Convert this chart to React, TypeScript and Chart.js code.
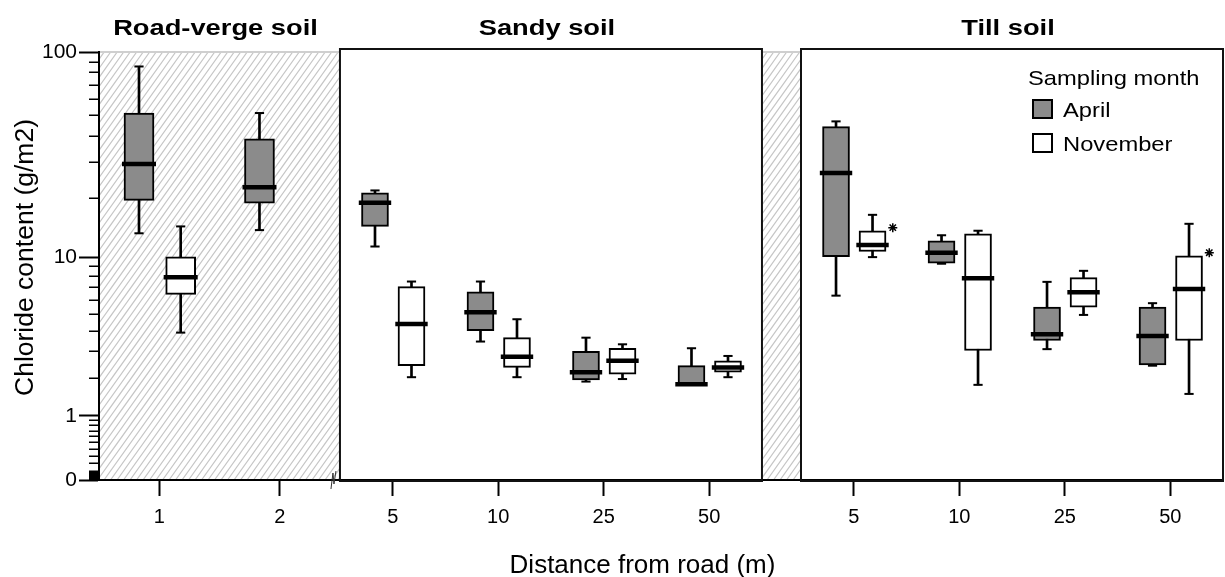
import React, { useEffect, useRef } from 'react';
import { Chart, registerables } from 'chart.js';

Chart.register(...registerables);

// ---------------- DATA ----------------
const panelTitles = ['Road-verge soil', 'Sandy soil', 'Till soil'];
const roadDistances = ['1', '2'];
const sandyDistances = ['5', '10', '25', '50'];
const tillDistances = ['5', '10', '25', '50'];

// category order: road 1, road 2, sandy 5, 10, 25, 50, till 5, 10, 25, 50
const aprilMin = [13.3, 13.8, 11.4, 3.45, 1.89, 1.79, 6.3, 9.3, 3.1, 2.43];
const aprilQ1 = [19.4, 18.8, 14.4, 4.0, 1.94, 1.79, 10.1, 9.35, 3.5, 2.46];
const aprilMedian = [29.2, 22.5, 18.9, 5.1, 2.2, 1.81, 26.4, 10.6, 3.82, 3.73];
const aprilQ3 = [51.3, 38.6, 21.1, 6.6, 3.0, 2.43, 44.2, 12.2, 5.45, 5.45];
const aprilMax = [85.4, 51.3, 21.7, 7.5, 3.64, 3.14, 46.8, 13.0, 7.47, 5.73];

const novMin = [3.9, null, 2.03, 2.03, 1.97, 2.03, 10.06, 1.79, 4.93, 1.53];
const novQ1 = [6.4, null, 2.43, 2.37, 2.13, 2.2, 10.75, 3.04, 5.45, 3.5];
const novMedian = [7.9, null, 4.37, 2.78, 2.62, 2.36, 11.6, 7.81, 6.58, 6.85];
const novQ3 = [10.1, null, 7.05, 3.64, 3.14, 2.61, 13.7, 13.2, 7.87, 10.21];
const novMax = [14.4, null, 7.5, 4.66, 3.32, 2.81, 16.45, 13.7, 8.54, 14.84];
const novStars = [null, null, null, null, null, null, 14.2, null, null, 10.6];

const seriesLabels = ['April', 'November'];
const legendTitle = 'Sampling month';
const xAxisTitle = 'Distance from road (m)';
const yAxisTitle = 'Chloride content (g/m2)';

const yTickValues = [0, 1, 10, 100];
const yTickLabels = ['0', '1', '10', '100'];
const yMinorTicks = [
  0.01, 0.02, 0.03, 0.04, 0.05, 0.06, 0.07, 0.08, 0.09,
  0.1, 0.2, 0.3, 0.4, 0.5, 0.6, 0.7, 0.8, 0.9,
  2, 3, 4, 5, 6, 7, 8, 9,
  20, 30, 40, 50, 60, 70, 80, 90,
];

// ---------------- LAYOUT / STYLE ----------------
const FONT = "'Liberation Sans', Arial, Helvetica, sans-serif";
const PANEL_UNITS = [2.284, 4, 4]; // panel widths in category units
const PANEL_GAP_BEFORE = [0, 0, 0.37];
const APRIL_OFFSET = -0.168;
const NOV_OFFSET = 0.178;
const STAR_OFFSET = 0.37;
const APRIL_FILL = '#8b8b8b';
const NOV_FILL = '#ffffff';

const tf = (v: number) => Math.log10(v + 1);

const panelDistances = [roadDistances, sandyDistances, tillDistances];
const panelStarts: number[] = [];
{
  let s = 0;
  PANEL_UNITS.forEach((w, i) => {
    s += PANEL_GAP_BEFORE[i];
    panelStarts.push(s);
    s += w;
  });
}
const X_MAX = panelStarts[2] + PANEL_UNITS[2];

type Cat = { panel: number; label: string; center: number; slot: number };
const categories: Cat[] = [];
panelDistances.forEach((d, p) => {
  const slot = PANEL_UNITS[p] / d.length;
  d.forEach((label, i) => {
    categories.push({ panel: p, label, center: panelStarts[p] + (i + 0.5) * slot, slot });
  });
});

function buildSeries(
  mins: (number | null)[], q1: (number | null)[], med: (number | null)[],
  q3: (number | null)[], maxs: (number | null)[], offset: number,
) {
  const whisk: any[] = [], boxRoad: any[] = [], boxOther: any[] = [], caps: any[] = [], meds: any[] = [];
  categories.forEach((c, i) => {
    if (med[i] == null) return;
    const x = c.center + offset * c.slot;
    whisk.push({ x, y: [tf(mins[i] as number), tf(maxs[i] as number)] });
    const box = { x, y: [tf(q1[i] as number), tf(q3[i] as number)] };
    (c.panel === 0 ? boxRoad : boxOther).push(box);
    caps.push({ x, y: tf(mins[i] as number) });
    caps.push({ x, y: tf(maxs[i] as number) });
    meds.push({ x, y: tf(med[i] as number), road: c.panel === 0 });
  });
  return { whisk, boxRoad, boxOther, caps, meds };
}

const april = buildSeries(aprilMin, aprilQ1, aprilMedian, aprilQ3, aprilMax, APRIL_OFFSET);
const nov = buildSeries(novMin, novQ1, novMedian, novQ3, novMax, NOV_OFFSET);
const starPoints = categories
  .map((c, i) => (novStars[i] == null ? null : { x: c.center + STAR_OFFSET * c.slot, y: tf(novStars[i] as number) }))
  .filter(Boolean);

function hatch(ctx: CanvasRenderingContext2D, x0: number, y0: number, x1: number, y1: number) {
  ctx.save();
  ctx.beginPath();
  ctx.rect(x0, y0, x1 - x0, y1 - y0);
  ctx.clip();
  ctx.strokeStyle = '#c6c6c6';
  ctx.lineWidth = 1.2;
  const slope = 1.4;
  const sp = 6.5;
  const h = y1 - y0;
  const dx = h / slope;
  ctx.beginPath();
  const startS = Math.floor((x0 - dx) / sp) * sp;
  for (let s = startS; s < x1 + sp; s += sp) {
    ctx.moveTo(s, y1);
    ctx.lineTo(s + dx, y0);
  }
  ctx.stroke();
  ctx.restore();
  ctx.save();
  ctx.strokeStyle = '#cfcfcf';
  ctx.lineWidth = 2;
  ctx.beginPath();
  ctx.moveTo(x0, y0);
  ctx.lineTo(x1, y0);
  ctx.stroke();
  ctx.restore();
}

function stretchedText(ctx: CanvasRenderingContext2D, text: string, cx: number, y: number, font: string, sx: number, align: CanvasTextAlign) {
  ctx.save();
  ctx.font = font;
  ctx.fillStyle = '#000';
  ctx.textAlign = align;
  ctx.textBaseline = 'alphabetic';
  ctx.translate(cx, y);
  ctx.scale(sx, 1);
  ctx.fillText(text, 0, 0);
  ctx.restore();
}

const decorPlugin = {
  id: 'decor',
  beforeDraw(chart: any) {
    const { ctx, chartArea: a, scales } = chart;
    const x = scales.x;
    hatch(ctx, a.left + 1, a.top, x.getPixelForValue(panelStarts[1]), a.bottom);
    hatch(ctx, x.getPixelForValue(panelStarts[1] + PANEL_UNITS[1]), a.top, x.getPixelForValue(panelStarts[2]), a.bottom);
  },
  afterDraw(chart: any) {
    const { ctx, chartArea: a, scales } = chart;
    const x = scales.x;
    const y = scales.y;
    // framed panels
    ctx.save();
    ctx.strokeStyle = '#111';
    ctx.lineWidth = 2;
    [1, 2].forEach((p) => {
      const l = x.getPixelForValue(panelStarts[p]);
      const r = Math.min(x.getPixelForValue(panelStarts[p] + PANEL_UNITS[p]), chart.width - 1.5);
      ctx.strokeRect(l, a.top - 3, r - l, a.bottom - a.top + 4);
    });
    ctx.restore();
    // minor y ticks
    ctx.save();
    ctx.strokeStyle = '#000';
    ctx.lineWidth = 1.5;
    ctx.beginPath();
    yMinorTicks.forEach((v) => {
      const py = Math.round(y.getPixelForValue(tf(v))) + 0.25;
      ctx.moveTo(a.left - 10, py);
      ctx.lineTo(a.left, py);
    });
    ctx.stroke();
    ctx.restore();
    // axis break symbol
    const bx = x.getPixelForValue(panelStarts[1]) - 7;
    const by = a.bottom;
    ctx.save();
    ctx.strokeStyle = '#333';
    ctx.lineWidth = 1;
    ctx.beginPath();
    ctx.moveTo(bx - 2, by + 9);
    ctx.lineTo(bx, by - 7);
    ctx.lineTo(bx + 1, by + 4);
    ctx.lineTo(bx + 3, by - 9);
    ctx.stroke();
    ctx.restore();
    // panel titles
    panelTitles.forEach((t, p) => {
      const l = x.getPixelForValue(panelStarts[p]);
      const r = x.getPixelForValue(panelStarts[p] + PANEL_UNITS[p]);
      stretchedText(ctx, t, (l + r) / 2 - 4, 34.5, `bold 22px ${FONT}`, 1.24, 'center');
    });
    // axis titles
    stretchedText(ctx, xAxisTitle, 642.5, 573, `26px ${FONT}`, 1.0, 'center');
    ctx.save();
    ctx.font = `26.5px ${FONT}`;
    ctx.fillStyle = '#000';
    ctx.textAlign = 'center';
    ctx.textBaseline = 'alphabetic';
    ctx.translate(33, 257.5);
    ctx.rotate(-Math.PI / 2);
    ctx.fillText(yAxisTitle, 0, 0);
    ctx.restore();
    // legend
    const lx = a.right - 195;
    const ly = a.top;
    stretchedText(ctx, legendTitle, lx, ly + 33, `21px ${FONT}`, 1.13, 'left');
    const fills = [APRIL_FILL, NOV_FILL];
    seriesLabels.forEach((lab, i) => {
      const sy = ly + 48 + i * 34;
      ctx.save();
      ctx.fillStyle = fills[i];
      ctx.strokeStyle = '#000';
      ctx.lineWidth = 2;
      ctx.fillRect(lx + 5, sy, 19, 18);
      ctx.strokeRect(lx + 5, sy, 19, 18);
      ctx.restore();
      stretchedText(ctx, lab, lx + 35, sy + 17, `21px ${FONT}`, 1.13, 'left');
    });
  },
};

export default function App() {
  const ref = useRef<HTMLCanvasElement | null>(null);
  useEffect(() => {
    document.body.style.margin = '0';
    const canvas = ref.current;
    if (!canvas) return;
    const whiskerDs = (data: any[]) => ({
      type: 'bar', data, backgroundColor: '#000', borderWidth: 0, barThickness: 2, grouped: false, order: 4,
    });
    const boxDs = (label: string, data: any[], fill: string, thick: number) => ({
      type: 'bar', label, data, backgroundColor: fill, borderColor: '#000', borderWidth: 2,
      borderSkipped: false, barThickness: thick, grouped: false, order: 3,
    });
    const capDs = (data: any[]) => ({
      type: 'scatter', data, pointStyle: 'line', pointRadius: 4.6, borderColor: '#000', pointBorderWidth: 2,
      backgroundColor: '#000', order: 2,
    });
    const medDs = (data: any[]) => ({
      type: 'scatter', data, pointStyle: 'line',
      pointRadius: (c: any) => (c.raw && c.raw.road ? 17 : 16.2),
      borderColor: '#000', pointBorderWidth: 4.5, backgroundColor: '#000', order: 1,
    });
    const chart = new Chart(canvas, {
      type: 'bar',
      data: {
        datasets: [
          whiskerDs(april.whisk),
          whiskerDs(nov.whisk),
          boxDs(seriesLabels[0], april.boxRoad, APRIL_FILL, 30),
          boxDs(seriesLabels[0], april.boxOther, APRIL_FILL, 27),
          boxDs(seriesLabels[1], nov.boxRoad, NOV_FILL, 30),
          boxDs(seriesLabels[1], nov.boxOther, NOV_FILL, 27),
          capDs(april.caps),
          capDs(nov.caps),
          medDs(april.meds),
          medDs(nov.meds),
          {
            type: 'scatter', data: starPoints, pointStyle: 'star', pointRadius: 4.5, borderColor: '#000',
            pointBorderWidth: 1.5, order: 0,
          },
        ] as any,
      },
      options: {
        animation: false,
        responsive: false,
        devicePixelRatio: 1,
        events: [],
        layout: { autoPadding: false, padding: { top: 52, right: 2, left: 0, bottom: 0 } },
        plugins: { legend: { display: false }, tooltip: { enabled: false }, title: { display: false } },
        scales: {
          x: {
            type: 'linear',
            min: 0,
            max: X_MAX,
            offset: false,
            afterFit: (s: any) => { s.height = 97; },
            afterBuildTicks: (s: any) => { s.ticks = categories.map((c) => ({ value: c.center })); },
            ticks: {
              autoSkip: false,
              maxRotation: 0,
              padding: 9,
              color: '#000',
              font: { family: FONT, size: 20 },
              callback: (_v: any, i: number) => categories[i] ? categories[i].label : '',
            },
            grid: { drawOnChartArea: false, offset: false, tickLength: 16, tickWidth: 2, tickColor: '#000' },
            border: { display: true, color: '#000', width: 2 },
          },
          y: {
            type: 'linear',
            min: 0,
            max: tf(100),
            afterFit: (s: any) => { s.width = 99; },
            afterBuildTicks: (s: any) => { s.ticks = yTickValues.map((v) => ({ value: tf(v) })); },
            ticks: {
              padding: 2,
              color: '#000',
              font: { family: FONT, size: 21 },
              callback: (_v: any, i: number) => yTickLabels[i],
            },
            grid: { drawOnChartArea: false, tickLength: 20, tickWidth: 2, tickColor: '#000' },
            border: { display: true, color: '#000', width: 2 },
          },
        },
      } as any,
      plugins: [decorPlugin],
    });
    return () => chart.destroy();
  }, []);
  return (
    <div style={{ width: 1225, height: 577, background: '#fff' }}>
      <canvas ref={ref} width={1225} height={577} style={{ display: 'block' }} />
    </div>
  );
}
